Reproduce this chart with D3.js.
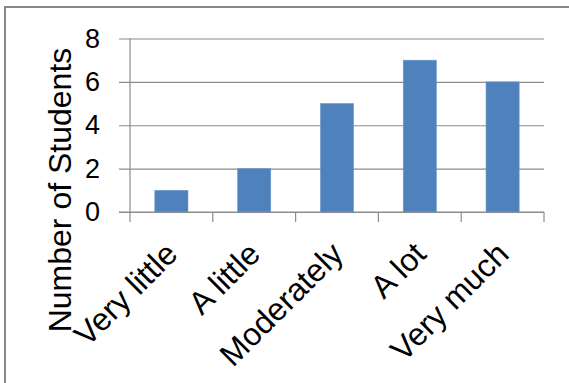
<!DOCTYPE html>
<html>
<head>
<meta charset="utf-8">
<script src="https://cdn.jsdelivr.net/npm/d3@7"></script>
<style>
  html, body { margin: 0; padding: 0; background: #fff; }
  svg { display: block; font-family: "Liberation Sans", Arial, sans-serif; }
</style>
</head>
<body>
<svg id="chart" width="569" height="383"></svg>
<script>
// Survey responses: how many students chose each option
const categories = ["Very little", "A little", "Moderately", "A lot", "Very much"];
const students = [1, 2, 5, 7, 6];
const yTicks = [0, 2, 4, 6, 8];
const yTitle = "Number of Students";

const svg = d3.select("#chart");
const plot = { left: 130, right: 544, top: 38.5, bottom: 212 };
const gridColor = "#8c8c8c";
const barColor = "#4f81bd";

// Outer frame (top and left edges visible)
svg.append("path")
  .attr("d", "M5,383 L5,7 L569,7")
  .attr("fill", "none")
  .attr("stroke", "#878787")
  .attr("stroke-width", 2);

const x = d3.scaleBand()
  .domain(categories)
  .range([plot.left, plot.right])
  .paddingInner(0.6)
  .paddingOuter(0.3);

const y = d3.scaleLinear()
  .domain([0, 8])
  .range([plot.bottom, plot.top]);

// Horizontal gridlines with short ticks to the left of the axis
const yAxis = d3.axisLeft(y)
  .tickValues(yTicks)
  .tickSize(plot.right - plot.left + 11)
  .tickPadding(0)
  .tickFormat("");
const gy = svg.append("g")
  .attr("transform", `translate(${plot.right},0)`)
  .call(yAxis);
gy.select(".domain").remove();
gy.selectAll(".tick line").attr("stroke", gridColor).attr("stroke-width", 1.2);

// Y tick labels
svg.append("g").selectAll("text")
  .data(yTicks)
  .join("text")
  .attr("x", 100)
  .attr("y", d => y(d) + 2)
  .attr("text-anchor", "end")
  .attr("dominant-baseline", "middle")
  .attr("font-size", 27)
  .attr("fill", "#000")
  .text(d => d);

// Bars
svg.append("g").selectAll("rect")
  .data(students)
  .join("rect")
  .attr("x", (d, i) => x(categories[i]))
  .attr("width", x.bandwidth())
  .attr("y", d => y(d))
  .attr("height", d => y(0) - y(d))
  .attr("fill", barColor)
  .attr("stroke", "#6f97c9")
  .attr("stroke-width", 0.6);

// Y axis line
svg.append("line")
  .attr("x1", plot.left).attr("x2", plot.left)
  .attr("y1", plot.top).attr("y2", plot.bottom)
  .attr("stroke", gridColor).attr("stroke-width", 1.2);

// X axis with category boundary ticks
const step = x.step();
const boundaries = d3.range(categories.length + 1).map(i => plot.left + i * step);
svg.append("line")
  .attr("x1", plot.left - 11).attr("x2", plot.right)
  .attr("y1", plot.bottom).attr("y2", plot.bottom)
  .attr("stroke", gridColor).attr("stroke-width", 1.2);
svg.append("g").selectAll("line")
  .data(boundaries)
  .join("line")
  .attr("x1", d => d).attr("x2", d => d)
  .attr("y1", plot.bottom).attr("y2", plot.bottom + 10)
  .attr("stroke", gridColor).attr("stroke-width", 1.2);

// Rotated category labels
svg.append("g").selectAll("text")
  .data(categories)
  .join("text")
  .attr("text-anchor", "end")
  .attr("font-size", 32)
  .attr("fill", "#000")
  .attr("transform", d => `translate(${x(d) + x.bandwidth() / 2 + 8},256) rotate(-45)`)
  .text(d => d);

// Y axis title
svg.append("text")
  .attr("text-anchor", "middle")
  .attr("font-size", 32)
  .attr("fill", "#000")
  .attr("transform", "translate(71,190) rotate(-90)")
  .text(yTitle);
</script>
</body>
</html>
